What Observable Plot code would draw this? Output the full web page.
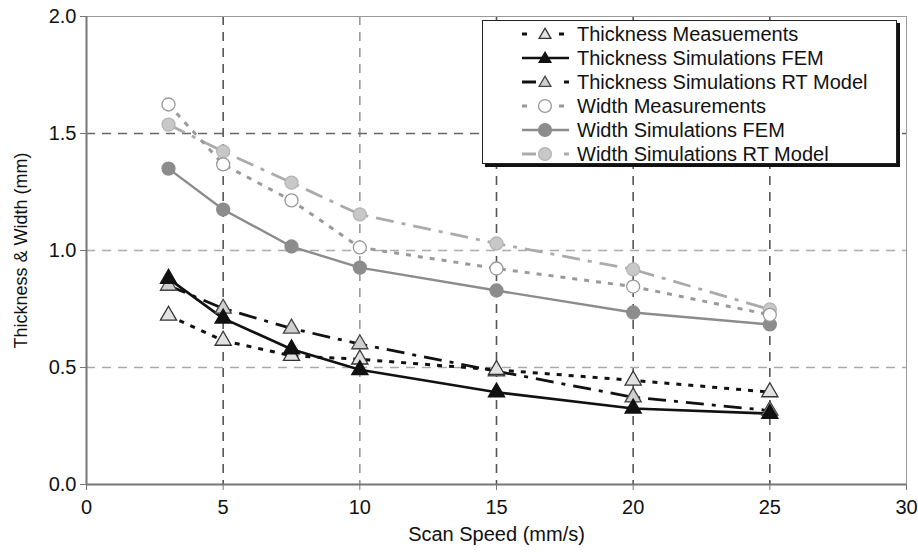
<!DOCTYPE html>
<html><head><meta charset="utf-8">
<script src="https://cdn.jsdelivr.net/npm/d3@7"></script>
<script src="https://cdn.jsdelivr.net/npm/@observablehq/plot@0.6"></script>
<style>
body{margin:0;background:#fff;font-family:"Liberation Sans",Arial,sans-serif;}
#wrap{position:relative;width:918px;height:553px;overflow:hidden;}
#legend{position:absolute;left:482px;top:20px;width:413px;height:142px;border:1px solid #222;box-shadow:3px 3px 0 #111;background:#fff;}
.row{position:absolute;left:0;height:24px;width:100%;}
.row svg{position:absolute;left:36px;top:0;}
.row span{position:absolute;left:94px;top:0;line-height:24px;font-size:20px;color:#111;white-space:nowrap;}
</style></head><body><div id="wrap"></div>
<script>
// ---- data ----
const speeds = [3, 5, 7.5, 10, 15, 20, 25];
const thicknessMeas = [0.722, 0.615, 0.55, 0.535, 0.49, 0.445, 0.395];
const thicknessFEM  = [0.88, 0.71, 0.578, 0.49, 0.394, 0.325, 0.303];
const thicknessRT   = [0.85, 0.752, 0.667, 0.6, 0.484, 0.373, 0.316];
const widthMeas = [1.624, 1.368, 1.214, 1.013, 0.923, 0.846, 0.725];
const widthFEM  = [1.35, 1.175, 1.017, 0.927, 0.829, 0.735, 0.684];
const widthRT   = [1.538, 1.423, 1.29, 1.154, 1.03, 0.919, 0.748];
const seriesNames = ["Thickness Measuements","Thickness Simulations FEM","Thickness Simulations RT Model","Width Measurements","Width Simulations FEM","Width Simulations RT Model"];
const xTicks = [0, 5, 10, 15, 20, 25, 30];
const yTicks = [0, 0.5, 1.0, 1.5, 2.0];
const xGrid = [5, 10, 15, 20, 25];
const yGrid = [0.5, 1.0, 1.5];
const xTitle = "Scan Speed (mm/s)";
const yTitle = "Thickness & Width (mm)";

// ---- styles ----
const styles = [
  {stroke:"#111", width:3, dash:"5,7", symbol:"triangle", fill:"#e2e2e2", mstroke:"#333"},
  {stroke:"#111", width:2.6, dash:null, symbol:"triangle", fill:"#111", mstroke:"#111"},
  {stroke:"#111", width:2.8, dash:"18,8,4,8", symbol:"triangle", fill:"#cfcfcf", mstroke:"#444"},
  {stroke:"#9a9a9a", width:3, dash:"5,7", symbol:"circle", fill:"#fff", mstroke:"#999"},
  {stroke:"#8c8c8c", width:2.4, dash:null, symbol:"circle", fill:"#8c8c8c", mstroke:"#8c8c8c"},
  {stroke:"#ababab", width:2.8, dash:"18,8,4,8", symbol:"circle", fill:"#c8c8c8", mstroke:"#b5b5b5"}
];
const seriesVals = [thicknessMeas, thicknessFEM, thicknessRT, widthMeas, widthFEM, widthRT];
const series = seriesNames.map((name, i) => ({name, style: styles[i], rows: speeds.map((x, j) => ({x, y: seriesVals[i][j]}))}));

const drawOrder = [5, 4, 3, 2, 0, 1];
const lineMarks = drawOrder.map(i => Plot.line(series[i].rows, {x:"x", y:"y", stroke:series[i].style.stroke, strokeWidth:series[i].style.width, strokeDasharray:series[i].style.dash || undefined, strokeLinecap:"butt"}));
const dotMarks = drawOrder.map(i => Plot.dot(series[i].rows, {x:"x", y:"y", symbol:series[i].style.symbol, r: series[i].style.symbol === "circle" ? 6.5 : 6, fill:series[i].style.fill, stroke:series[i].style.mstroke, strokeWidth:1.3}));

const chart = Plot.plot({
  width: 918, height: 553,
  marginLeft: 86, marginRight: 12, marginTop: 16, marginBottom: 69,
  x: {domain:[0,30]},
  y: {domain:[0,2]},
  style: {fontFamily:"'Liberation Sans', Arial, sans-serif", background:"#fff", color:"#111"},
  marks: [
    Plot.ruleX(xGrid, {stroke: d => d === 10 ? "#9a9a9a" : "#555", strokeWidth:1.6, strokeDasharray:"9,7"}),
    Plot.ruleY(yGrid, {stroke: d => d === 1.5 ? "#666" : "#aaa", strokeWidth:1.4, strokeDasharray:"9,7"}),
    Plot.frame({stroke:"#999", strokeWidth:1}),
    Plot.ruleX([0], {stroke:"#777", strokeWidth:2}),
    Plot.ruleY([0], {stroke:"#777", strokeWidth:2}),
    Plot.axisX({ticks:xTicks, tickFormat:d => String(d), tickSize:6, tickPadding:9, fontSize:20, stroke:"#777", label:xTitle, labelAnchor:"center", labelOffset:56, labelArrow:"none"}),
    Plot.axisY({ticks:yTicks, tickFormat:d3.format(".1f"), tickSize:6, tickPadding:4, fontSize:20, stroke:"#777", label:yTitle, labelAnchor:"center", labelOffset:72, labelArrow:"none"}),
    ...lineMarks,
    ...dotMarks
  ]
});
d3.select(chart).selectAll("g[aria-label='x-axis label'] text").style("font-size","20px");
d3.select(chart).selectAll("g[aria-label='y-axis label'] text").style("font-size","18px");
document.getElementById("wrap").appendChild(chart);

// ---- legend ----
const legend = document.createElement("div");
legend.id = "legend";
series.forEach((s, i) => {
  const row = document.createElement("div");
  row.className = "row";
  row.style.top = (1 + i * 24) + "px";
  const st = s.style;
  const ns = "http://www.w3.org/2000/svg";
  const svg = document.createElementNS(ns, "svg");
  svg.setAttribute("width", 54); svg.setAttribute("height", 24);
  const line = document.createElementNS(ns, "line");
  line.setAttribute("x1", 3); line.setAttribute("x2", 50); line.setAttribute("y1", 12); line.setAttribute("y2", 12);
  line.setAttribute("stroke", st.stroke); line.setAttribute("stroke-width", st.width);
  if (i % 3 === 0) line.setAttribute("stroke-dasharray", "5,32,5,50");
  else if (st.dash) line.setAttribute("stroke-dasharray", "14,28,5,50");
  svg.appendChild(line);
  const sym = document.createElementNS(ns, "path");
  sym.setAttribute("d", d3.symbol(st.symbol === "circle" ? d3.symbolCircle : d3.symbolTriangle2, st.symbol === "circle" ? 130 : 100)());
  sym.setAttribute("transform", st.symbol === "circle" ? "translate(26,12)" : "translate(26,13)");
  sym.setAttribute("fill", st.fill); sym.setAttribute("stroke", st.mstroke); sym.setAttribute("stroke-width", 1.3);
  svg.appendChild(sym);
  row.appendChild(svg);
  const span = document.createElement("span");
  span.textContent = s.name;
  row.appendChild(span);
  legend.appendChild(row);
});
document.getElementById("wrap").appendChild(legend);
</script>
</body></html>
